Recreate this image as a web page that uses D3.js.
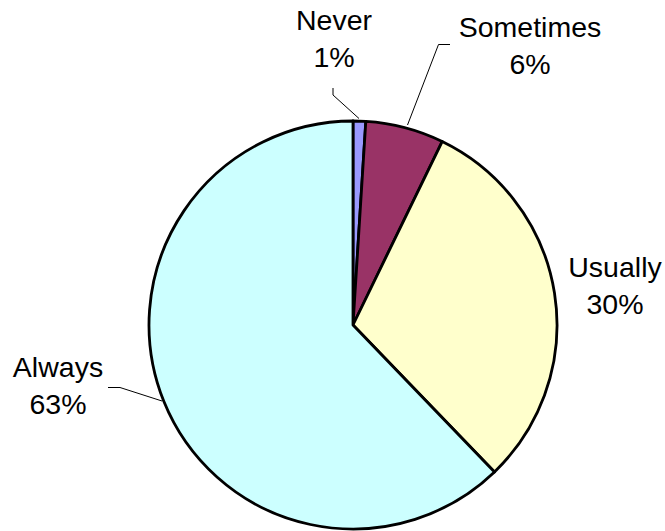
<!DOCTYPE html>
<html>
<head>
<meta charset="utf-8">
<script src="https://cdn.jsdelivr.net/npm/d3@7"></script>
<style>
  body { margin: 0; background: #fff; }
  svg text { font-family: Arial, "Liberation Sans", sans-serif; font-size: 28.5px; fill: #000; }
</style>
</head>
<body>
<div id="chart"></div>
<script>
// datos del gráfico
const categories = ['Never', 'Sometimes', 'Usually', 'Always'];
const values = [1.0, 6.2, 30.6, 62.2];
const pctLabels = ['1%', '6%', '30%', '63%'];
const colors = ['#9999FF', '#993366', '#FFFFCC', '#CCFFFF'];

// posiciones de etiquetas (centro x, línea base y) y líneas guía
const labelPos = [[334, 29.5], [530, 37], [615, 277], [58, 377]];
const leaders = [
    [[333, 88], [333, 95], [359, 118.5]],
    [[450, 44.5], [438.5, 44.5], [407.5, 125]],
    null,
    [[108, 387.5], [120, 387.5], [162, 401]]
];

const width = 665, height = 531;
const cx = 353, cy = 325, radius = 204;

const svg = d3.select('#chart')
    .append('svg')
    .attr('width', width)
    .attr('height', height);

const pie = d3.pie().sort(null).value(d => d);
const arc = d3.arc().innerRadius(0).outerRadius(radius);

const g = svg.append('g').attr('transform', `translate(${cx},${cy})`);

g.selectAll('path')
    .data(pie(values))
    .enter()
    .append('path')
    .attr('d', arc)
    .attr('fill', (d, i) => colors[i])
    .attr('stroke', '#000')
    .attr('stroke-width', 2.8)
    .attr('stroke-linejoin', 'round');

// líneas guía
const line = d3.line();
leaders.forEach(pts => {
    if (!pts) return;
    svg.append('path')
        .attr('d', line(pts))
        .attr('fill', 'none')
        .attr('stroke', '#000')
        .attr('stroke-width', 1);
});

// etiquetas
categories.forEach((c, i) => {
    const [x, y] = labelPos[i];
    const t = svg.append('text').attr('text-anchor', 'middle');
    t.append('tspan').attr('x', x).attr('y', y).text(c);
    t.append('tspan').attr('x', x).attr('y', y + 37).text(pctLabels[i]);
});
</script>
</body>
</html>
